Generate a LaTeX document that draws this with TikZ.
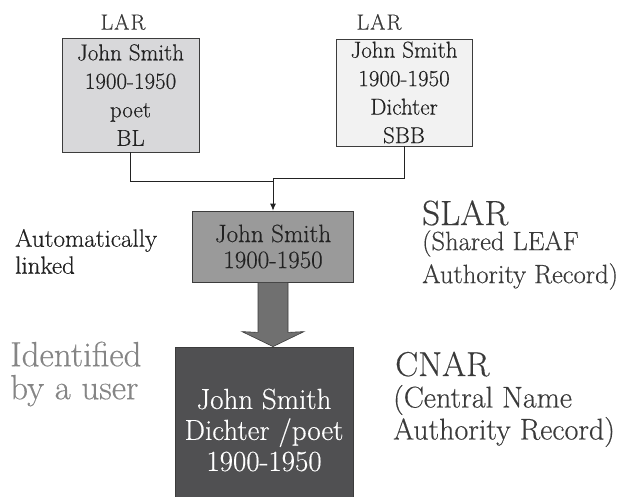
\documentclass[tikz,border=0pt]{standalone}
\usepackage{fontspec}
\setmainfont{lmroman17-regular.otf}[FakeBold=0.4]
\usetikzlibrary{calc,arrows.meta}
\definecolor{boxline}{HTML}{3C3C3C}
\definecolor{lartwo}{HTML}{F2F2F2}
\definecolor{larone}{HTML}{D8D8DA}
\definecolor{slarfill}{HTML}{9A9A9A}
\definecolor{cnarfill}{HTML}{505052}
\definecolor{arrowfill}{HTML}{707070}
\definecolor{txt}{HTML}{222222}
\definecolor{txtgray}{HTML}{3A3A3A}
\definecolor{idgray}{HTML}{858585}
\tikzset{
  box/.style={draw=boxline, line width=0.8pt, align=center, inner sep=0pt, text=txt},
  lbl/.style={align=left, anchor=west, inner sep=0pt},
  link/.style={draw=txt, line width=0.8pt},
}
\begin{document}
\begin{tikzpicture}[x=1pt,y=-1pt]
\useasboundingbox (0,0) rectangle (618,497);
\clip (0,0) rectangle (618,497);
% LAR boxes
\node[box, fill=larone, minimum width=137pt, minimum height=114pt,
      font=\fontsize{23}{28.5}\selectfont] (lar1) at (130.5,95) {John Smith\\1900-1950\\poet\\BL};
\node[box, fill=lartwo, minimum width=136pt, minimum height=107pt,
      font=\fontsize{23}{28.5}\selectfont] (lar2) at (404,92.5) {John Smith\\1900-1950\\Dichter\\SBB};
\node[font=\fontsize{22}{24}\selectfont, text=txtgray, inner sep=0pt] (lab1) at (123,22) {L\kern1ptA\kern1ptR};
\node[font=\fontsize{22}{24}\selectfont, text=txtgray, inner sep=0pt] (lab2) at (379,22) {L\kern1ptA\kern1ptR};
% SLAR box
\node[box, fill=slarfill, minimum width=161pt, minimum height=71pt,
      font=\fontsize{25}{26}\selectfont] (slar) at (273,246.5) {John Smith\\1900-1950};
% CNAR box
\node[box, fill=cnarfill, text=white, minimum width=178pt, minimum height=166pt,
      font=\fontsize{29}{31}\selectfont] (cnar) at (264,430) {John Smith\\Dichter /poet\\1900-1950};
% connectors
\coordinate (jl) at (273,181);
\coordinate (jr) at (273,178);
\draw[link] (lar1.south) |- (jl);
\draw[link] (lar2.south) |- (jr);
\draw[link, -{Latex[length=7pt,width=6pt]}] (jr) -- (slar.north);
% thick arrow
\draw[fill=arrowfill, draw=boxline, line width=0.6pt]
  ($(slar.south)+(-15,0)$) -- ($(slar.south)+(-15,50)$) -- ($(slar.south |- cnar.north)+(-31,-15)$)
  -- (slar.south |- cnar.north) -- ($(slar.south |- cnar.north)+(31,-15)$)
  -- ($(slar.south)+(15,50)$) -- ($(slar.south)+(15,0)$) -- cycle;
% side labels
\node[lbl, text=txt, font=\fontsize{25}{27}\selectfont] (auto) at (15,251.5) {Automatically\\linked};
\node[lbl, text=idgray, font=\fontsize{35}{33}\selectfont] (ident) at (10,374) {Identified\\by a user};
\node[lbl, text=txtgray, font=\fontsize{35}{36}\selectfont, text height=24pt, text depth=0pt] (slart) at (422,213) {SLAR};
\node[lbl, text=txtgray, font=\fontsize{26.5}{33}\selectfont] (slarsub) at (422,260) {(Shared LEAF\\Authority Record)};
\node[lbl, text=txtgray, font=\fontsize{34.5}{36}\selectfont, text height=24pt, text depth=0pt] (cnart) at (395,364) {CNAR};
\node[lbl, text=txtgray, font=\fontsize{30}{32}\selectfont] (cnarsub) at (393,416) {(Central Name\\Authority Record)};
\end{tikzpicture}
\end{document}
